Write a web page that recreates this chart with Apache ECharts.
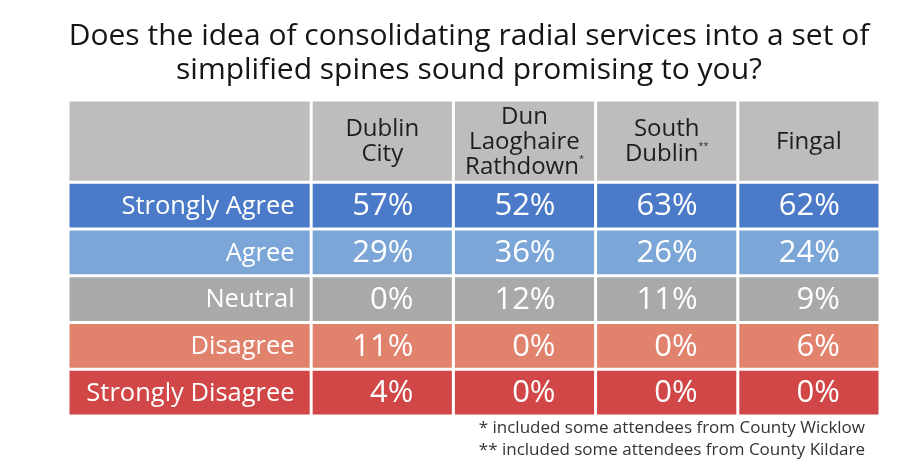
<!DOCTYPE html>
<html><head><meta charset="utf-8">
<script src="https://cdn.jsdelivr.net/npm/echarts@6/dist/echarts.min.js"></script>
<style>html,body{margin:0;padding:0;background:#fff}#c{width:900px;height:464px}</style>
</head><body><div id="c"></div>
<script>
var titleText = 'Does the idea of consolidating radial services into a set of\nsimplified spines sound promising to you?';
var regions = ['Dublin\nCity', 'Dun\nLaoghaire\nRathdown{s|*}', 'South\nDublin{s|**}', 'Fingal'];
var responses = ['Strongly Agree', 'Agree', 'Neutral', 'Disagree', 'Strongly Disagree'];
var dublinCity = [57, 29, 0, 11, 4];
var dunLaoghaire = [52, 36, 12, 0, 0];
var southDublin = [63, 26, 11, 0, 0];
var fingal = [62, 24, 9, 6, 0];
var footnotes = ['* included some attendees from County Wicklow', '** included some attendees from County Kildare'];

var rowColors = ['#4b7bc8', '#7ba6d7', '#a9a9a9', '#e1826d', '#d14646'];
var headerColor = '#bdbdbd';
var colWeights = [1.71, 1, 1, 1, 1];
var rowWeights = [1.76, 1, 1, 1, 1, 1];

function edges(w) { var e = [0]; w.forEach(function (v, i) { e.push(e[i] + v); }); return e; }
var xE = edges(colWeights), yE = edges(rowWeights);

var series = [dublinCity, dunLaoghaire, southDublin, fingal];
var data = [];
data.push([0, 0, '', 'header']);
regions.forEach(function (r, i) { data.push([i + 1, 0, r, 'header']); });
responses.forEach(function (r, j) {
  data.push([0, j + 1, r, 'label']);
  series.forEach(function (s, i) { data.push([i + 1, j + 1, s[j] + '%', 'value']); });
});

var FONT = '"Open Sans", Lato, sans-serif';
var chart = echarts.init(document.getElementById('c'));
chart.setOption({
  backgroundColor: '#fff',
  animation: false,
  title: {
    text: titleText, left: 464, top: 14, textAlign: 'center',
    textStyle: { fontFamily: FONT, fontSize: 30, fontWeight: 'normal', color: '#151515', lineHeight: 34 }
  },
  grid: { left: 68, right: 20, top: 100, bottom: 48 },
  xAxis: { type: 'value', min: 0, max: xE[xE.length - 1], show: false },
  yAxis: { type: 'value', min: 0, max: yE[yE.length - 1], inverse: true, show: false },
  series: [{
    type: 'custom',
    data: data,
    renderItem: function (params, api) {
      var c = api.value(0), r = api.value(1);
      var d = data[params.dataIndex];
      var p0 = api.coord([xE[c], yE[r]]), p1 = api.coord([xE[c + 1], yE[r + 1]]);
      var g = 1.5;
      var x0 = p0[0] + g, y0 = p0[1] + g, x1 = p1[0] - g, y1 = p1[1] - g;
      var fill = r === 0 ? headerColor : rowColors[r - 1];
      var children = [{ type: 'rect', shape: { x: x0, y: y0, width: x1 - x0, height: y1 - y0 }, style: { fill: fill } }];
      var cx = (x0 + x1) / 2, cy = (y0 + y1) / 2;
      if (d[3] === 'header' && d[2]) {
        children.push({ type: 'text', style: {
          text: d[2], x: cx, y: cy + 1, align: 'center', verticalAlign: 'middle',
          fill: '#1e1e1e', fontFamily: FONT, fontSize: 24, lineHeight: 25,
          rich: { s: { fontSize: 9, verticalAlign: 'top', lineHeight: 25, fill: '#1e1e1e', fontFamily: FONT } }
        } });
      } else if (d[3] === 'label') {
        children.push({ type: 'text', style: {
          text: d[2], x: x1 - 15, y: cy + 1, align: 'right', verticalAlign: 'middle',
          fill: '#ffffff', fontFamily: FONT, fontSize: 25.5
        } });
      } else if (d[3] === 'value') {
        children.push({ type: 'text', style: {
          text: d[2], x: cx + 31, y: cy + 1, align: 'right', verticalAlign: 'middle',
          fill: '#ffffff', fontFamily: FONT, fontSize: 31
        } });
      }
      return { type: 'group', children: children };
    }
  }],
  graphic: [
    { type: 'text', right: 35, top: 420, style: { text: footnotes[0], fill: '#333', fontFamily: FONT, fontSize: 17 } },
    { type: 'text', right: 35, top: 442, style: { text: footnotes[1], fill: '#333', fontFamily: FONT, fontSize: 17 } }
  ]
});
</script></body></html>
